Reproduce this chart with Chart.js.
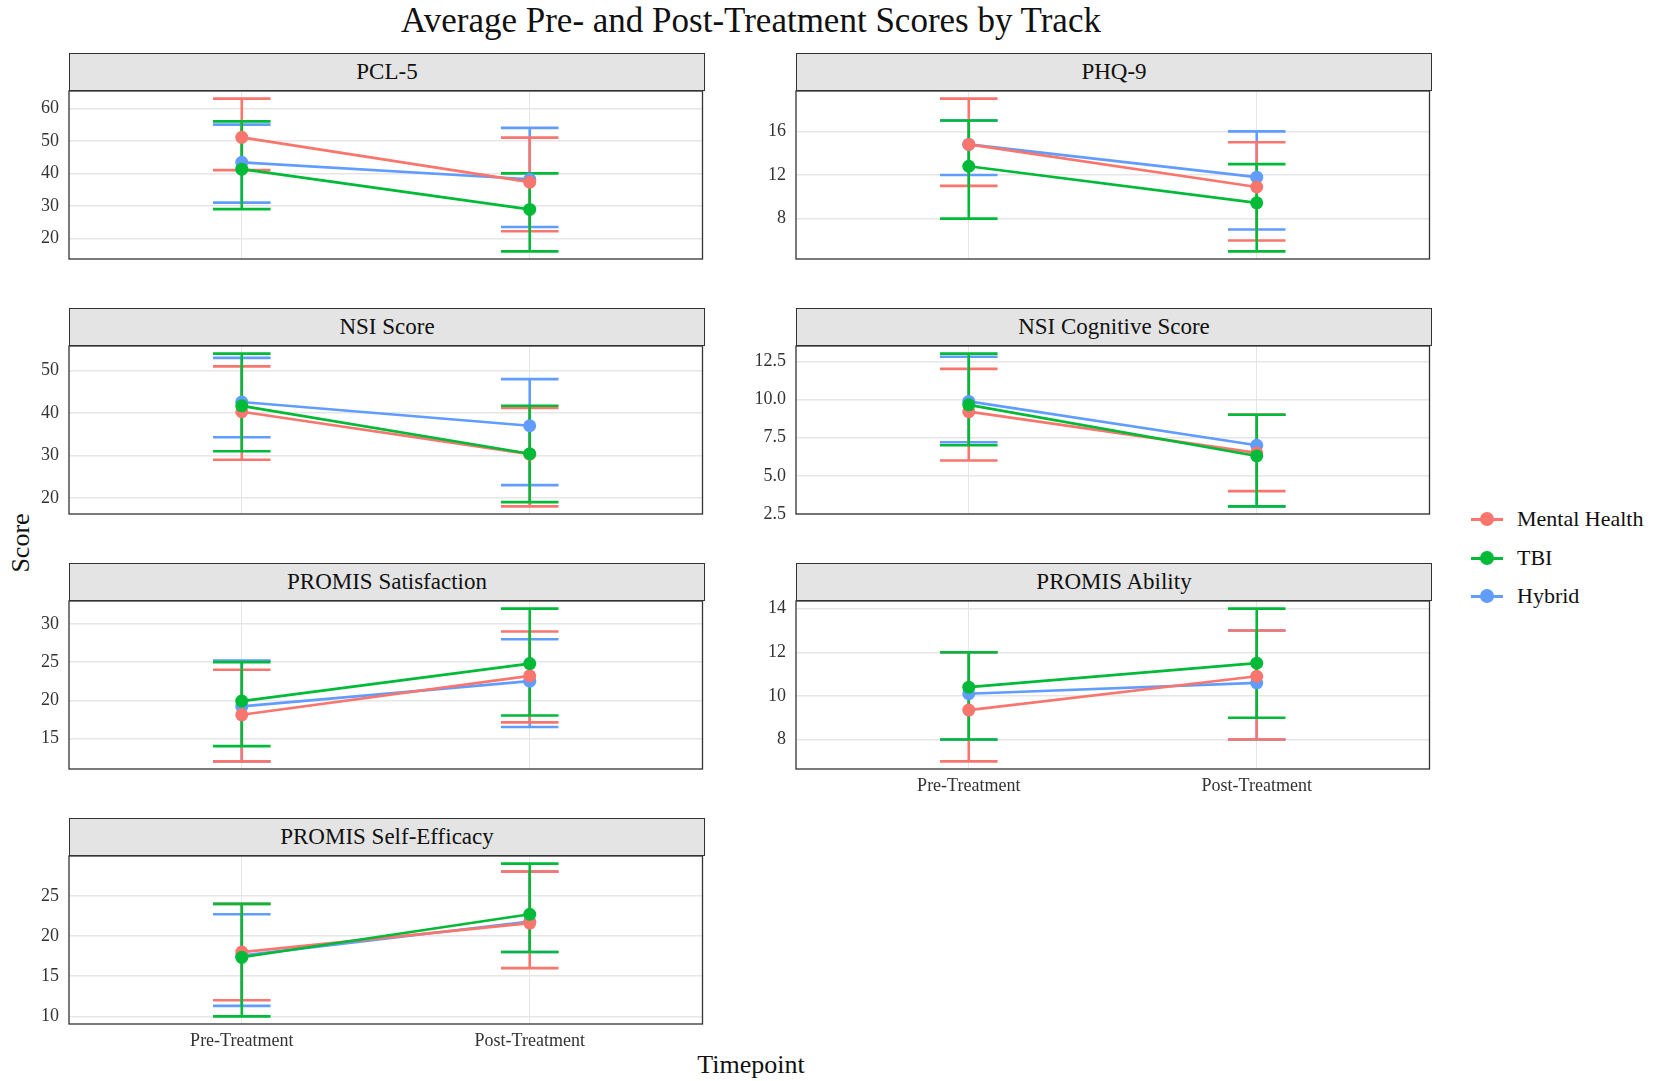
<!DOCTYPE html>
<html>
<head>
<meta charset="utf-8">
<title>Average Pre- and Post-Treatment Scores by Track</title>
<script src="https://cdn.jsdelivr.net/npm/chart.js@4.4.1/dist/chart.umd.min.js"></script>
<style>
  body { margin: 0; background: #fff; font-family: 'Liberation Serif', 'Times New Roman', serif; }
  #page { position: relative; width: 1654px; height: 1081px; overflow: hidden; background: #fff; }
  .strip { position: absolute; box-sizing: border-box; background: #e4e4e4; border: 1px solid #333;
           font-size: 23px; color: #111; text-align: center; }
  canvas.panel { position: absolute; }
  #title { position: absolute; left: 751px; top: 1px; transform: translateX(-50%); white-space: nowrap;
           font-size: 35px; line-height: 40px; color: #111; }
  #xtitle { position: absolute; left: 751px; top: 1050px; transform: translateX(-50%);
            font-size: 26px; line-height: 30px; color: #111; }
  #ytitle { position: absolute; left: 21px; top: 543px; transform: translate(-50%, -50%) rotate(-90deg);
            font-size: 26px; line-height: 30px; color: #111; }
  .legend-item { position: absolute; left: 1471px; height: 30px; font-size: 22px; line-height: 30px; color: #111; }
  .legend-item .ln { position: absolute; left: 0; top: 14px; width: 32px; height: 2.5px; }
  .legend-item .pt { position: absolute; left: 9px; top: 8px; width: 14px; height: 14px; border-radius: 50%; }
  .legend-item .tx { position: absolute; left: 46px; top: 0; white-space: nowrap; }
</style>
</head>
<body>
<div id="page">
  <div id="title">Average Pre- and Post-Treatment Scores by Track</div>
  <div id="ytitle">Score</div>
  <div id="xtitle">Timepoint</div>
</div>
<script>
// categories
const timepoints = ['Pre-Treatment', 'Post-Treatment'];
const tracks = ['Mental Health', 'TBI', 'Hybrid'];
const panelTitles = ['PCL-5', 'PHQ-9', 'NSI Score', 'NSI Cognitive Score',
                     'PROMIS Satisfaction', 'PROMIS Ability', 'PROMIS Self-Efficacy'];
const yTicks = [
  [20, 30, 40, 50, 60],
  [8, 12, 16],
  [20, 30, 40, 50],
  [2.5, 5, 7.5, 10, 12.5],
  [15, 20, 25, 30],
  [8, 10, 12, 14],
  [10, 15, 20, 25]
];

// means [pre, post] per panel
const meanMH     = [[51.1, 37.3], [14.8, 10.9], [40.3, 30.3], [9.2, 6.5],  [18.1, 23.2], [9.35, 10.9], [18.0, 21.6]];
const meanTBI    = [[41.3, 28.9], [12.8, 9.45], [41.7, 30.4], [9.65, 6.3], [19.9, 24.8], [10.4, 11.5], [17.35, 22.7]];
const meanHybrid = [[43.4, 38.2], [14.8, 11.8], [42.6, 37.0], [9.87, 7.0], [19.2, 22.5], [10.1, 10.6], [17.55, 21.8]];

// error bar lower / upper [pre, post]
const lowMH      = [[41, 22.2], [11, 6], [29, 18],   [6, 4],   [12, 17.1], [7, 8], [12, 16]];
const highMH     = [[63, 51],   [19, 15], [51, 41.2], [12, 9],  [24, 29],   [12, 13], [24, 28]];
const lowTBI     = [[29, 16],   [8, 5],   [31, 19],   [7, 3],   [14, 18],   [8, 9],  [10, 18]];
const highTBI    = [[56, 40],   [17, 13], [54, 41.7], [13, 9],  [25, 32],   [12, 14], [24, 29]];
const lowHybrid  = [[31, 23.5], [12, 7],  [34.3, 23], [7.2, 3], [12, 16.5], [8, 8],  [11.3, 18]];
const highHybrid = [[55, 54],   [17, 16], [53, 48],   [12.8, 9], [25.2, 28], [12, 13], [22.7, 28]];

const means = [meanMH, meanTBI, meanHybrid];
const lows = [lowMH, lowTBI, lowHybrid];
const highs = [highMH, highTBI, highHybrid];

const trackColors = ['#F8766D', '#00BA38', '#619CFF'];
const trackOrder = [1, 0, 2];          // TBI on top, then Mental Health, Hybrid underneath
const barDrawSeq = [2, 0, 1];

// layout
const colLeft = [69, 796];
const rowTop = [53, 308, 563, 818];
const panelW = 636, stripH = 38, plotH = 168;
const yAxisW = 70, xAxisH = 36, padT = 15, padR = 4;

Chart.defaults.font.family = "'Liberation Serif', 'Times New Roman', serif";
Chart.defaults.color = '#333';

const errorBars = {
  id: 'errorBars',
  beforeDatasetsDraw(chart, args, opts) {
    const ctx = chart.ctx, xs = chart.scales.x, ys = chart.scales.y;
    const p = opts.panel;
    ctx.save();
    ctx.lineWidth = 2.6;
    barDrawSeq.forEach(k => {
      ctx.strokeStyle = trackColors[k];
      timepoints.forEach((t, i) => {
        const x = xs.getPixelForValue(i + 1);
        const x0 = xs.getPixelForValue(i + 1 - 0.1), x1 = xs.getPixelForValue(i + 1 + 0.1);
        const yl = ys.getPixelForValue(lows[k][p][i]), yh = ys.getPixelForValue(highs[k][p][i]);
        ctx.beginPath();
        ctx.moveTo(x, yl); ctx.lineTo(x, yh);
        ctx.moveTo(x0, yl); ctx.lineTo(x1, yl);
        ctx.moveTo(x0, yh); ctx.lineTo(x1, yh);
        ctx.stroke();
      });
    });
    ctx.restore();
  }
};

const panelFrame = {
  id: 'panelFrame',
  afterDraw(chart) {
    const ca = chart.chartArea, ctx = chart.ctx;
    ctx.save();
    ctx.strokeStyle = '#333';
    ctx.lineWidth = 1.3;
    ctx.strokeRect(ca.left, ca.top, ca.right - ca.left, ca.bottom - ca.top);
    ctx.restore();
  }
};

const page = document.getElementById('page');

panelTitles.forEach((title, p) => {
  const col = p % 2, row = Math.floor(p / 2);
  const left = colLeft[col], top = rowTop[row];
  const showX = (p === 5 || p === 6);

  const strip = document.createElement('div');
  strip.className = 'strip';
  strip.style.left = left + 'px';
  strip.style.top = top + 'px';
  strip.style.width = panelW + 'px';
  strip.style.height = stripH + 'px';
  strip.style.lineHeight = (stripH - 2) + 'px';
  strip.textContent = title;
  page.appendChild(strip);

  const cv = document.createElement('canvas');
  cv.className = 'panel';
  cv.width = yAxisW + panelW + padR;
  cv.height = padT + plotH + xAxisH;
  cv.style.left = (left - yAxisW) + 'px';
  cv.style.top = (top + stripH - padT) + 'px';
  page.appendChild(cv);

  // ggplot-style 5% expansion around the error bar range
  const allLow = Math.min(...lows.map(a => Math.min(...a[p])));
  const allHigh = Math.max(...highs.map(a => Math.max(...a[p])));
  const ext = (allHigh - allLow) * 0.05;
  const decimals = yTicks[p].some(v => v % 1 !== 0) ? 1 : 0;

  new Chart(cv, {
    type: 'line',
    data: {
      datasets: tracks.map((t, k) => ({
        label: t,
        data: means[k][p].map((v, i) => ({ x: i + 1, y: v })),
        borderColor: trackColors[k],
        backgroundColor: trackColors[k],
        pointBackgroundColor: trackColors[k],
        borderWidth: 2.7,
        pointRadius: 6.5,
        pointHoverRadius: 6.5,
        pointBorderWidth: 0,
        tension: 0,
        order: trackOrder[k]
      }))
    },
    options: {
      responsive: false,
      animation: false,
      events: [],
      layout: { padding: { top: padT, right: padR, left: 0, bottom: 0 } },
      plugins: { legend: { display: false }, tooltip: { enabled: false }, errorBars: { panel: p } },
      scales: {
        x: {
          type: 'linear',
          min: 0.4,
          max: 2.6,
          afterBuildTicks: s => { s.ticks = timepoints.map((t, i) => ({ value: i + 1 })); },
          afterFit: s => { s.height = xAxisH; s.paddingLeft = 0; s.paddingRight = 0; },
          ticks: {
            display: showX,
            autoSkip: false,
            maxRotation: 0,
            padding: 6,
            font: { size: 18 },
            color: '#333',
            callback: (v, i) => timepoints[i]
          },
          grid: { color: '#e6e6e6', lineWidth: 1, drawTicks: false },
          border: { display: false }
        },
        y: {
          min: allLow - ext,
          max: allHigh + ext,
          afterBuildTicks: s => { s.ticks = yTicks[p].map(v => ({ value: v })); },
          afterFit: s => { s.width = yAxisW; s.paddingTop = 0; s.paddingBottom = 0; },
          ticks: {
            padding: 10,
            font: { size: 18 },
            color: '#333',
            callback: v => v.toFixed(decimals)
          },
          grid: { color: '#e6e6e6', lineWidth: 1.5, drawTicks: false },
          border: { display: false }
        }
      }
    },
    plugins: [errorBars, panelFrame]
  });
});

// legend
const legendY = [519, 558, 596];
tracks.forEach((t, k) => {
  const item = document.createElement('div');
  item.className = 'legend-item';
  item.style.top = (legendY[k] - 15) + 'px';
  item.innerHTML = '<span class="ln"></span><span class="pt"></span><span class="tx"></span>';
  item.querySelector('.ln').style.background = trackColors[k];
  item.querySelector('.pt').style.background = trackColors[k];
  item.querySelector('.tx').textContent = t;
  page.appendChild(item);
});
</script>
</body>
</html>
